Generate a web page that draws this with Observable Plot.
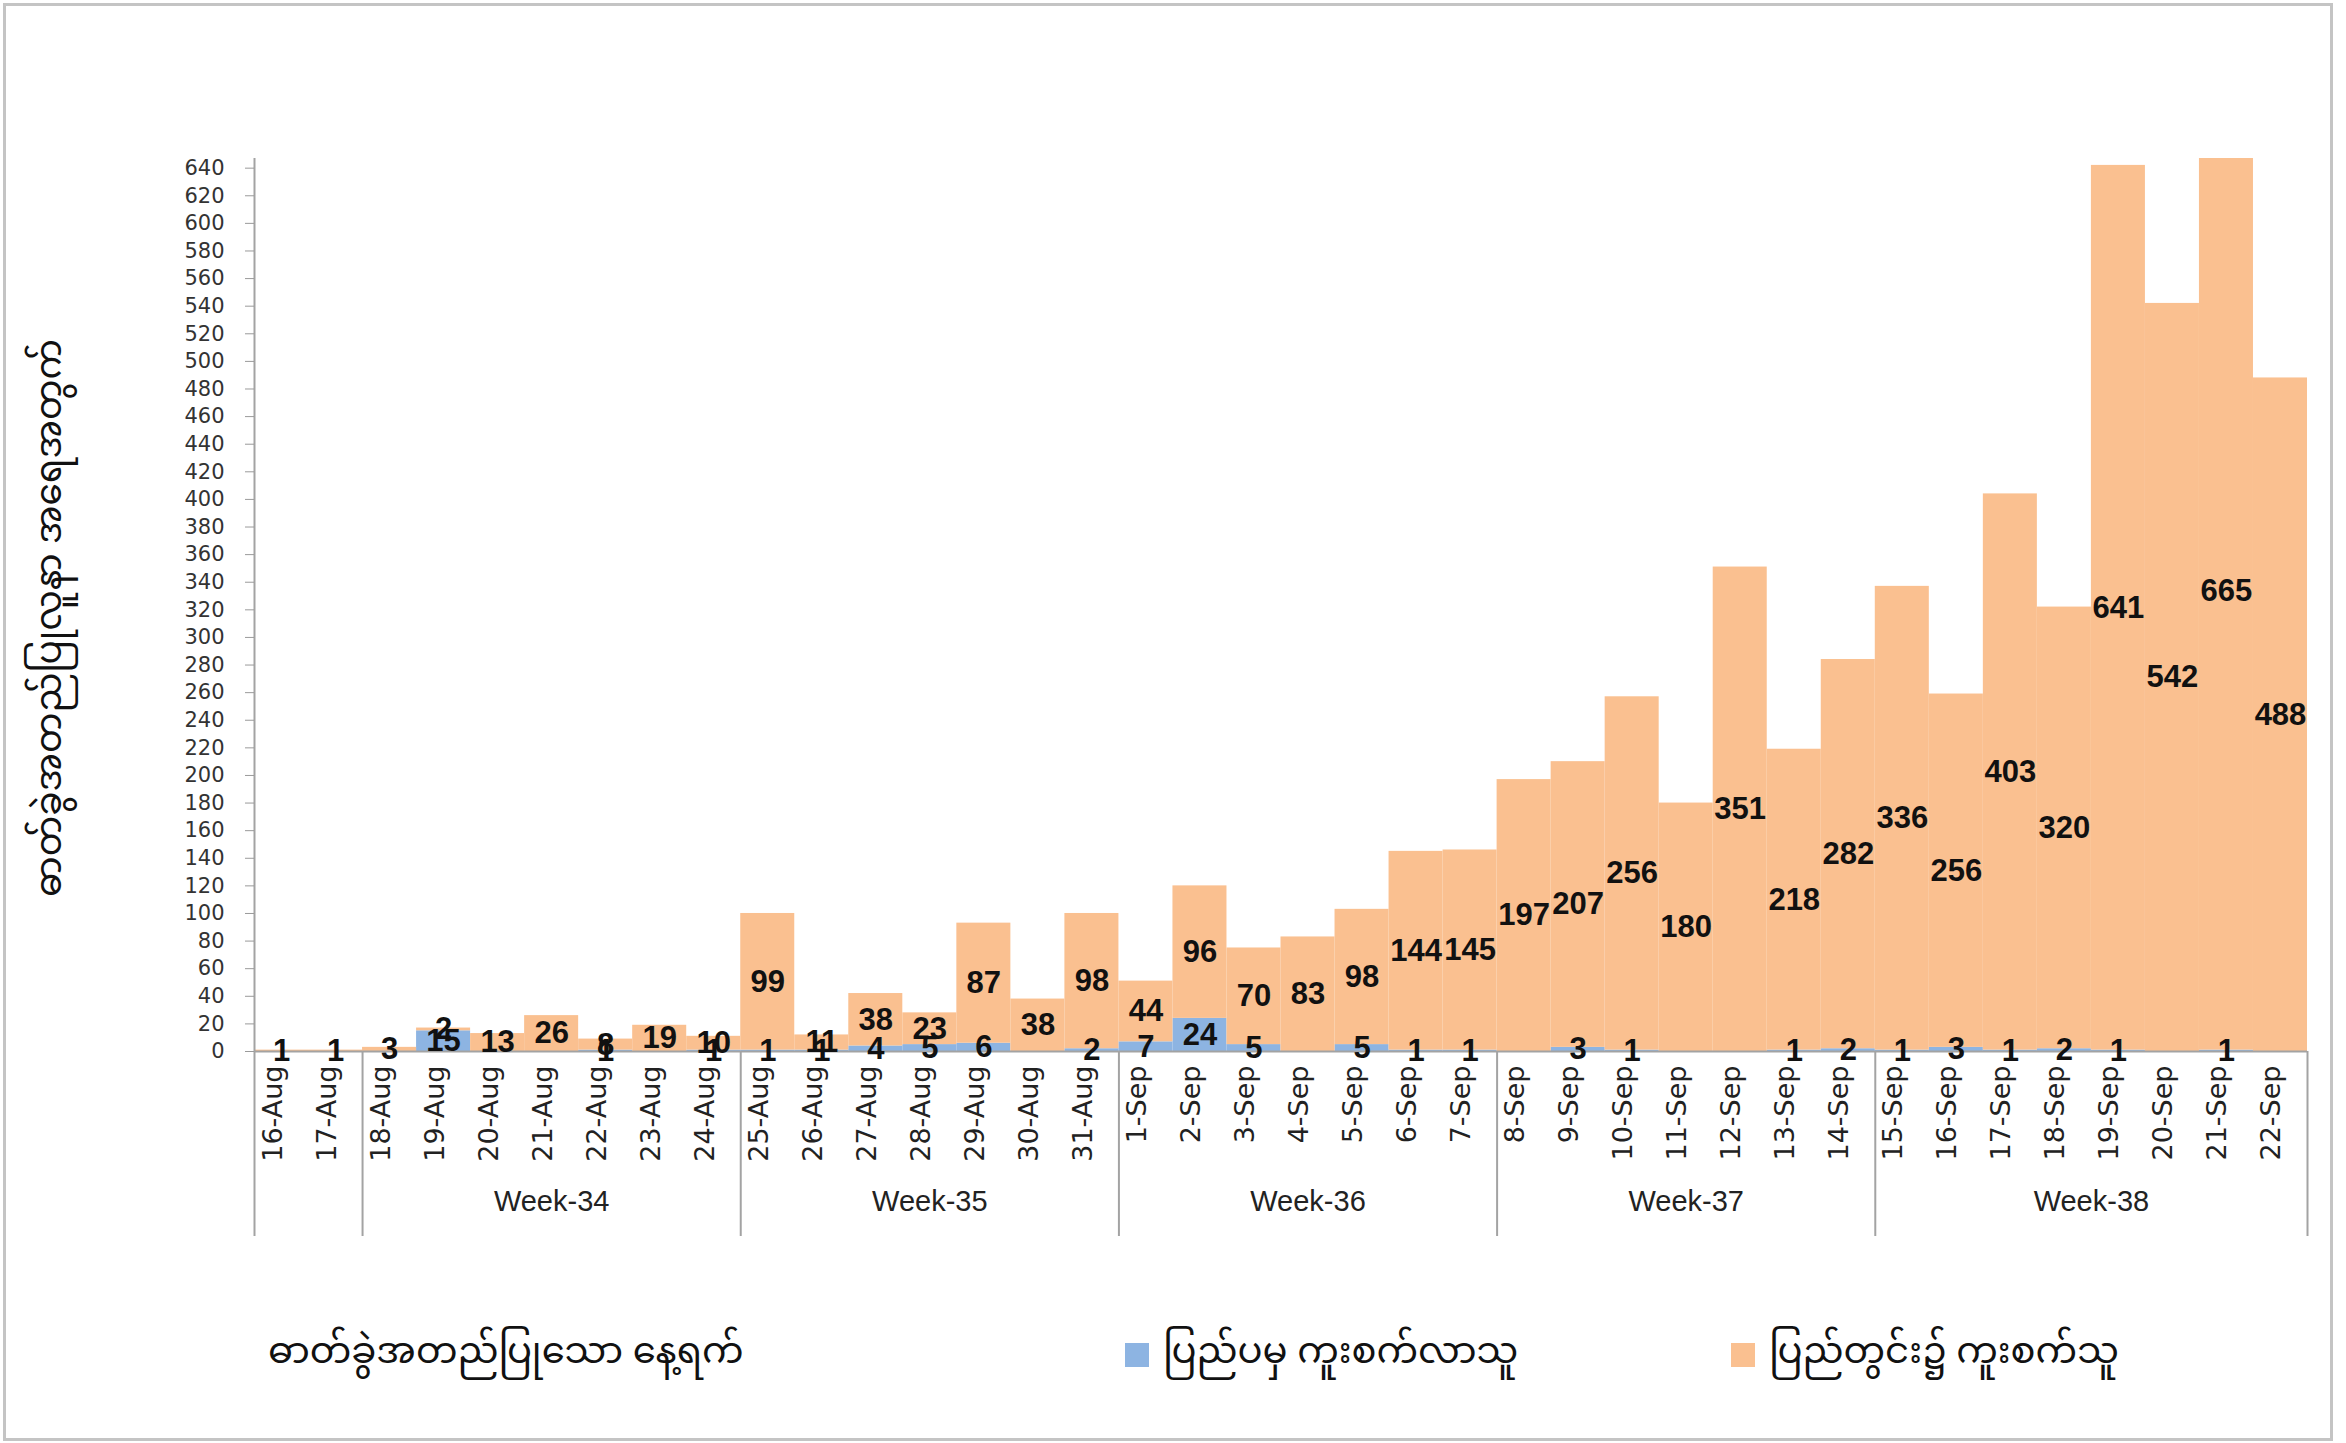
<!DOCTYPE html>
<html>
<head>
<meta charset="utf-8">
<script src="https://cdn.jsdelivr.net/npm/d3@7"></script>
<script src="https://cdn.jsdelivr.net/npm/@observablehq/plot@0.6"></script>
<style>
  html, body { margin: 0; padding: 0; background: #fff; }
  #wrap { position: relative; width: 2346px; height: 1443px; overflow: hidden; background: #fff; }
  #border { position: absolute; left: 3px; top: 3px; width: 2330px; height: 1438px; border: 3px solid #c4c4c4; box-sizing: border-box; }
  #chart { position: absolute; left: 0; top: 0; }
  .my { font-family: "Noto Sans Myanmar", "Padauk", "Myanmar Text", "Noto Sans", sans-serif; color: #111; white-space: nowrap; }
  #ytitle { position: absolute; left: 52px; top: 618px; font-size: 36px; transform: translate(-50%, -50%) rotate(-90deg); }
  #xtitle { position: absolute; left: 268px; top: 1314px; font-size: 37px; }
  .leg { position: absolute; top: 1314px; font-size: 37px; display: flex; align-items: center; }
  .sw { width: 24px; height: 24px; margin-right: 14px; display: inline-block; }
</style>
</head>
<body>
<div id="wrap">
  <div id="border"></div>
  <div id="chart"></div>
  <div id="ytitle" class="my"></div>
  <div id="xtitle" class="my"></div>
  <div id="leg1" class="leg my" style="left:1125px"></div>
  <div id="leg2" class="leg my" style="left:1731px"></div>
</div>
<script>
// ---- data ----
const dates = ["16-Aug","17-Aug","18-Aug","19-Aug","20-Aug","21-Aug","22-Aug","23-Aug","24-Aug",
  "25-Aug","26-Aug","27-Aug","28-Aug","29-Aug","30-Aug","31-Aug",
  "1-Sep","2-Sep","3-Sep","4-Sep","5-Sep","6-Sep","7-Sep",
  "8-Sep","9-Sep","10-Sep","11-Sep","12-Sep","13-Sep","14-Sep",
  "15-Sep","16-Sep","17-Sep","18-Sep","19-Sep","20-Sep","21-Sep","22-Sep"];
const imported = [0,0,0,15,0,0,1,0,1, 1,1,4,5,6,0,2, 7,24,5,0,5,1,1, 0,3,1,0,0,1,2, 1,3,1,2,1,0,1,0];
const local = [1,1,3,2,13,26,8,19,10, 99,11,38,23,87,38,98, 44,96,70,83,98,144,145, 197,207,256,180,351,218,282, 336,256,403,320,641,542,665,488];
const weekLabels = ["Week-34","Week-35","Week-36","Week-37","Week-38"];
const weekStart = [2, 9, 16, 23, 30];   // index of first day in each week
const weekEnd = [9, 16, 23, 30, 38];    // index after last day
const groupBounds = [0, 2, 9, 16, 23, 30, 38];
const yTicks = d3.range(0, 641, 20);
const seriesNames = ["ပြည်ပမှ ကူးစက်လာသူ", "ပြည်တွင်း၌ ကူးစက်သူ"];
const seriesColors = ["#8db4e2", "#fac090"];
const yTitle = "ဓာတ်ခွဲအတည်ပြုလူနာ အရေအတွက်";
const xTitle = "ဓာတ်ခွဲအတည်ပြုသော နေ့ရက်";

// ---- tidy table ----
const tidy = [];
dates.forEach((d, i) => tidy.push({i, date: d, series: seriesNames[0], value: imported[i]}));
dates.forEach((d, i) => tidy.push({i, date: d, series: seriesNames[1], value: local[i]}));
const labelled = tidy.filter(d => d.value > 0);
const weeks = weekLabels.map((w, k) => ({label: w, start: weekStart[k], end: weekEnd[k]}));

const labelFont = '"Liberation Sans", Arial, sans-serif';

const chart = Plot.plot({
  width: 2346,
  height: 1260,
  marginLeft: 254,
  marginRight: 39,
  marginTop: 158,
  marginBottom: 209,
  style: {background: "transparent", overflow: "visible"},
  x: {type: "linear", domain: [0, dates.length], axis: null},
  y: {domain: [0, 647], axis: null},
  color: {domain: seriesNames, range: seriesColors},
  marks: [
    Plot.rectY(tidy, {x1: "i", x2: d => d.i + 1, y: "value", fill: "series", clip: true}),
    Plot.ruleY([0], {stroke: "#a3a3a3", strokeWidth: 2}),
    Plot.ruleX([0], {stroke: "#a3a3a3", strokeWidth: 2}),
    Plot.ruleX(groupBounds, {x: d => d, y1: 0, y2: 0, insetBottom: -185, stroke: "#a3a3a3", strokeWidth: 2}),
    Plot.axisY(yTicks, {tickSize: 9, tickPadding: 21, fontSize: 21, fontFamily: "DejaVu Sans, sans-serif", stroke: "#9a9a9a", fill: "#333", label: null}),
    Plot.text(dates, {x: (d, i) => i + 0.5, text: d => d, frameAnchor: "bottom", rotate: -90, textAnchor: "end", dy: 14, fontSize: 27, fontFamily: "DejaVu Sans, sans-serif", fill: "#222"}),
    Plot.text(weeks, {x: d => (d.start + d.end) / 2, text: "label", frameAnchor: "bottom", dy: 159, fontSize: 29, fontFamily: labelFont, fill: "#222"}),
    Plot.text(labelled, Plot.stackY({x: d => d.i + 0.5, y: "value", z: "series", text: "value", fontSize: 31, fontWeight: "bold", fontFamily: labelFont, fill: "#111"}))
  ]
});
document.getElementById("chart").appendChild(chart);

document.getElementById("ytitle").textContent = yTitle;
document.getElementById("xtitle").textContent = xTitle;
[["leg1", 0], ["leg2", 1]].forEach(([id, k]) => {
  const el = document.getElementById(id);
  const sw = document.createElement("span");
  sw.className = "sw";
  sw.style.background = seriesColors[k];
  el.appendChild(sw);
  el.appendChild(document.createTextNode(seriesNames[k]));
});
</script>
</body>
</html>
